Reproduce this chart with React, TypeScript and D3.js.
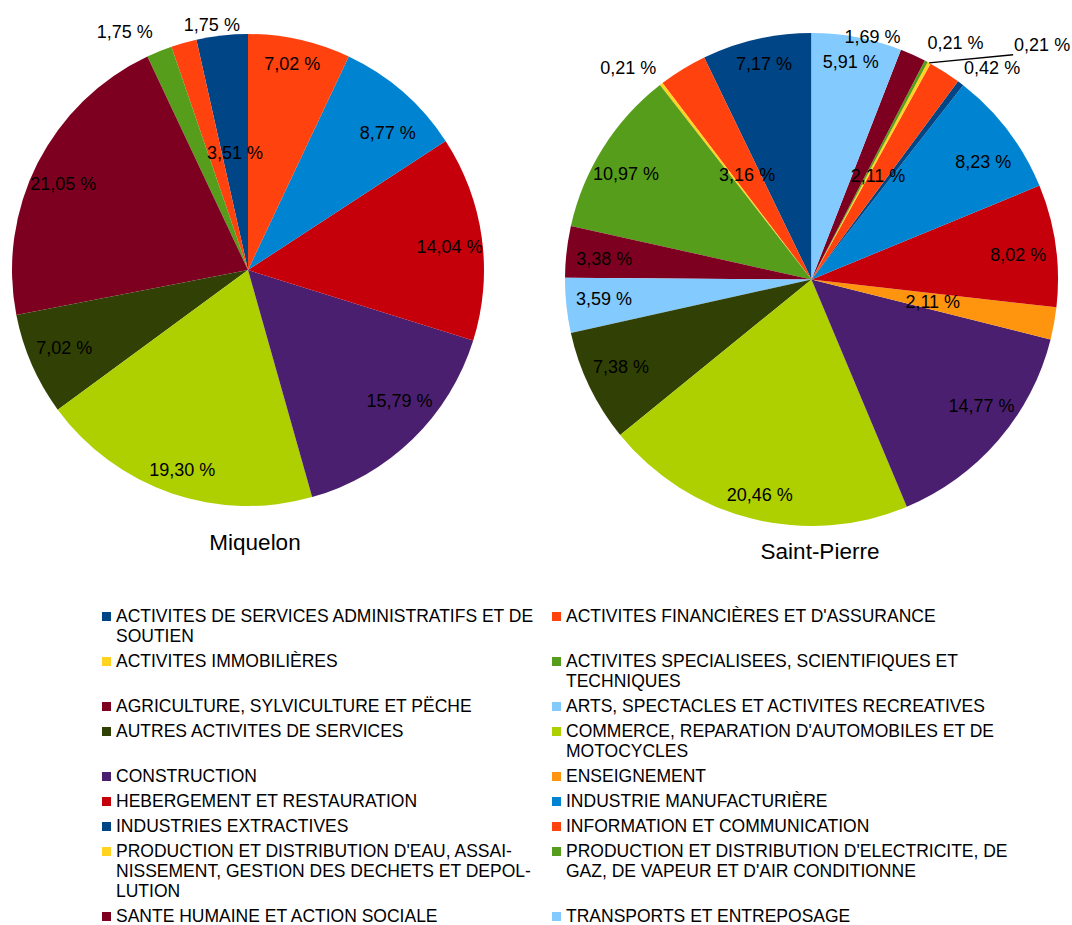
import React from "react";
import * as d3 from "d3";

// ---------- DATA ----------
const categories = [
  "ACTIVITES DE SERVICES ADMINISTRATIFS ET DE SOUTIEN",
  "ACTIVITES FINANCIÈRES ET D'ASSURANCE",
  "ACTIVITES IMMOBILIÈRES",
  "ACTIVITES SPECIALISEES, SCIENTIFIQUES ET TECHNIQUES",
  "AGRICULTURE, SYLVICULTURE ET PËCHE",
  "ARTS, SPECTACLES ET ACTIVITES RECREATIVES",
  "AUTRES ACTIVITES DE SERVICES",
  "COMMERCE, REPARATION D'AUTOMOBILES ET DE MOTOCYCLES",
  "CONSTRUCTION",
  "ENSEIGNEMENT",
  "HEBERGEMENT ET RESTAURATION",
  "INDUSTRIE MANUFACTURIÈRE",
  "INDUSTRIES EXTRACTIVES",
  "INFORMATION ET COMMUNICATION",
  "PRODUCTION ET DISTRIBUTION D'EAU, ASSAINISSEMENT, GESTION DES DECHETS ET DEPOLLUTION",
  "PRODUCTION ET DISTRIBUTION D'ELECTRICITE, DE GAZ, DE VAPEUR ET D'AIR CONDITIONNE",
  "SANTE HUMAINE ET ACTION SOCIALE",
  "TRANSPORTS ET ENTREPOSAGE",
];

const legendLines = [
  ["ACTIVITES DE SERVICES ADMINISTRATIFS ET DE", "SOUTIEN"],
  ["ACTIVITES FINANCIÈRES ET D'ASSURANCE"],
  ["ACTIVITES IMMOBILIÈRES"],
  ["ACTIVITES SPECIALISEES, SCIENTIFIQUES ET", "TECHNIQUES"],
  ["AGRICULTURE, SYLVICULTURE ET PËCHE"],
  ["ARTS, SPECTACLES ET ACTIVITES RECREATIVES"],
  ["AUTRES ACTIVITES DE SERVICES"],
  ["COMMERCE, REPARATION D'AUTOMOBILES ET DE", "MOTOCYCLES"],
  ["CONSTRUCTION"],
  ["ENSEIGNEMENT"],
  ["HEBERGEMENT ET RESTAURATION"],
  ["INDUSTRIE MANUFACTURIÈRE"],
  ["INDUSTRIES EXTRACTIVES"],
  ["INFORMATION ET COMMUNICATION"],
  ["PRODUCTION ET DISTRIBUTION D'EAU, ASSAI-", "NISSEMENT, GESTION DES DECHETS ET DEPOL-", "LUTION"],
  ["PRODUCTION ET DISTRIBUTION D'ELECTRICITE, DE", "GAZ, DE VAPEUR ET D'AIR CONDITIONNE"],
  ["SANTE HUMAINE ET ACTION SOCIALE"],
  ["TRANSPORTS ET ENTREPOSAGE"],
];

const colors = [
  "#004586", "#ff420e", "#ffd320", "#579d1c", "#7e0021", "#83caff",
  "#314004", "#aecf00", "#4b1f6f", "#ff950e", "#c5000b", "#0084d1",
  "#004586", "#ff420e", "#ffd320", "#579d1c", "#7e0021", "#83caff",
];

const miquelonValues = [3.51, 1.75, 0, 1.75, 21.05, 0, 7.02, 19.30, 15.79, 0, 14.04, 8.77, 0, 7.02, 0, 0, 0, 0];
const saintPierreValues = [7.17, 3.16, 0.21, 10.97, 3.38, 3.59, 7.38, 20.46, 14.77, 2.11, 8.02, 8.23, 0.42, 2.11, 0.21, 0.21, 1.69, 5.91];

const pieTitles = ["Miquelon", "Saint-Pierre"];

// ---------- LAYOUT ----------
type LabelOverride = { r: number; shift?: number; leader?: boolean };
const pies = [
  {
    title: pieTitles[0],
    values: miquelonValues,
    cx: 248, cy: 270, R: 236,
    titleX: 255, titleY: 550,
    overrides: {
      0: { r: 0.5 },
      1: { r: 1.05, shift: 7.4 },
      3: { r: 1.136, shift: -5.3 },
    } as Record<number, LabelOverride>,
  },
  {
    title: pieTitles[1],
    values: saintPierreValues,
    cx: 811.5, cy: 279.5, R: 246.5,
    titleX: 820, titleY: 559,
    overrides: {
      1: { r: 0.5 },
      2: { r: 1.136, shift: -3.3 },
      9: { r: 0.5 },
      12: { r: 1.13, shift: 3.2 },
      13: { r: 0.5 },
      14: { r: 1.335, shift: 16, leader: true },
      15: { r: 1.123, shift: 3.6 },
      16: { r: 1.014, shift: -10.2 },
    } as Record<number, LabelOverride>,
  },
];

const fmt = (v: number) => v.toFixed(2).replace(".", ",") + " %";
const FONT = "'Liberation Sans', Arial, sans-serif";
const LABEL_SIZE = 18;

function textWidth(s: string, size: number) {
  let w = 0;
  for (const ch of s) {
    if (ch >= "0" && ch <= "9") w += 0.556;
    else if (ch === "%") w += 0.889;
    else w += 0.278;
  }
  return w * size;
}

function Pie({ p }: { p: (typeof pies)[number] }) {
  const total = d3.sum(p.values);
  const pieGen = d3
    .pie<number>()
    .sort(null)
    .value((d) => d)
    .startAngle(0)
    .endAngle(-2 * Math.PI);
  const arcs = pieGen(p.values);
  const arcGen = d3.arc<d3.PieArcDatum<number>>().innerRadius(0).outerRadius(p.R);

  return (
    <g>
      <g transform={`translate(${p.cx},${p.cy})`}>
        {arcs.map((a, i) =>
          a.value > 0 ? <path key={i} d={arcGen(a) || ""} fill={colors[i]} /> : null
        )}
        {arcs.map((a, i) => {
          if (a.value <= 0) return null;
          const mid = (a.startAngle + a.endAngle) / 2;
          const ov = p.overrides[i];
          const label = fmt((a.value / total) * 100);
          const hw = textWidth(label, LABEL_SIZE) / 2;
          const hh = 9;
          let x: number, y: number;
          if (ov) {
            const r = ov.r * p.R;
            const ang = mid + ((ov.shift || 0) * Math.PI) / 180;
            x = r * Math.sin(ang);
            y = -r * Math.cos(ang);
          } else {
            // math angle (ccw from 3 o'clock) in degrees
            let phi = 90 - (mid * 180) / Math.PI;
            phi = ((phi % 360) + 360) % 360;
            const vertical = (phi > 67.5 && phi < 112.5) || (phi > 247.5 && phi < 292.5);
            const rA = vertical ? p.R - 34 : p.R - 66;
            const ax = rA * Math.sin(mid);
            const ay = -rA * Math.cos(mid);
            let ox = 0, oy = 0;
            if (phi <= 22.5 || phi >= 337.5) { ox = hw; }
            else if (phi < 67.5) { ox = hw; oy = -hh; }
            else if (phi < 112.5) { oy = -hh; }
            else if (phi < 157.5) { ox = -hw; oy = -hh; }
            else if (phi < 202.5) { ox = -hw; }
            else if (phi < 247.5) { ox = -hw; oy = hh; }
            else if (phi < 292.5) { oy = hh; }
            else { ox = hw; oy = hh; }
            x = ax + ox;
            y = ay + oy;
          }
          return (
            <g key={"l" + i}>
              {ov && ov.leader ? (
                <line
                  x1={p.R * Math.sin(mid)}
                  y1={-p.R * Math.cos(mid)}
                  x2={x - hw - 1}
                  y2={y + 10}
                  stroke="#000"
                  strokeWidth={1.4}
                />
              ) : null}
              <text
                x={x}
                y={y}
                dy="0.35em"
                textAnchor="middle"
                fontFamily={FONT}
                fontSize={LABEL_SIZE}
                fill="#000"
              >
                {label}
              </text>
            </g>
          );
        })}
      </g>
      <text
        x={p.titleX}
        y={p.titleY}
        textAnchor="middle"
        fontFamily={FONT}
        fontSize={22.5}
        fill="#000"
      >
        {p.title}
      </text>
    </g>
  );
}

function Legend() {
  const colX = [102, 552];
  const textDx = 14;
  const lineH = 20;
  const rowGap = 5;
  const startY = 616;
  const rows: number[][] = [];
  for (let i = 0; i < categories.length; i += 2) rows.push([i, i + 1]);
  let y = startY;
  const items: React.ReactNode[] = [];
  rows.forEach((row) => {
    const nLines = d3.max(row, (k) => (legendLines[k] ? legendLines[k].length : 0)) || 1;
    row.forEach((k, c) => {
      if (k >= categories.length) return;
      items.push(
        <g key={k}>
          <rect x={colX[c]} y={y - 4} width={9} height={9} fill={colors[k]} />
          <text fontFamily={FONT} fontSize={17.5} fill="#000">
            {legendLines[k].map((ln, li) => (
              <tspan key={li} x={colX[c] + textDx} y={y + li * lineH} dy="0.35em">
                {ln}
              </tspan>
            ))}
          </text>
        </g>
      );
    });
    y += nLines * lineH + rowGap;
  });
  return <g>{items}</g>;
}

export default function App() {
  return (
    <svg
      width={1072}
      height={925}
      style={{ position: "absolute", left: 0, top: 0, background: "#fff" }}
    >
      <rect x={0} y={0} width={1072} height={925} fill="#fff" />
      {pies.map((p, i) => (
        <Pie key={i} p={p} />
      ))}
      <Legend />
    </svg>
  );
}
